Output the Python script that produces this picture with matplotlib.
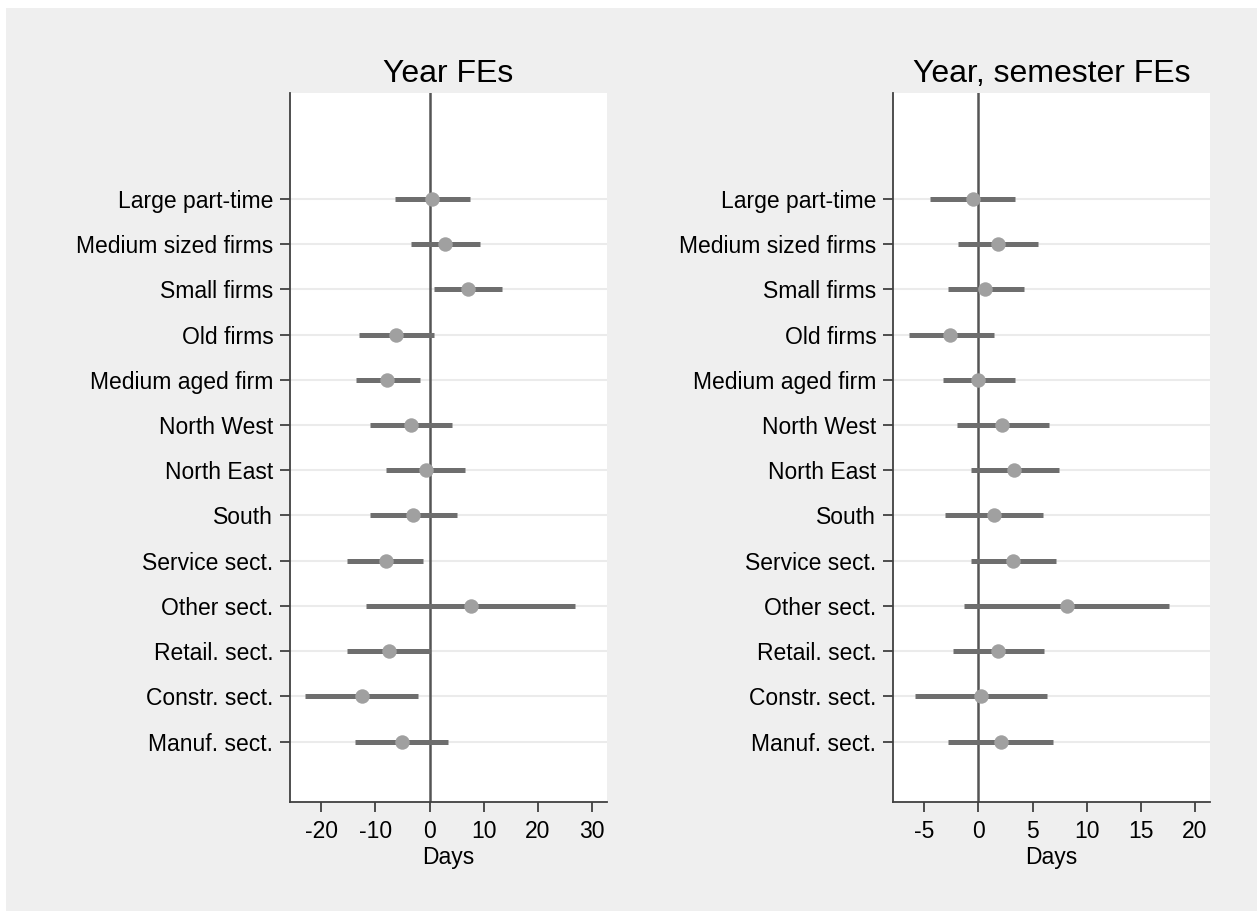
import numpy as np
import matplotlib.pyplot as plt
from matplotlib.patches import Rectangle

plt.rcParams['font.family'] = ['Liberation Sans', 'DejaVu Sans']

# coefficient labels, top to bottom
labels = ['Large part-time', 'Medium sized firms', 'Small firms', 'Old firms',
          'Medium aged firm', 'North West', 'North East', 'South',
          'Service sect.', 'Other sect.', 'Retail. sect.', 'Constr. sect.',
          'Manuf. sect.']

# Year FEs: point estimate and 95% CI
year_coef = [0.5, 2.8, 7.1, -6.1, -7.8, -3.5, -0.7, -3.0, -8.1, 7.6, -7.5, -12.4, -5.0]
year_lo = [-6.3, -3.5, 0.8, -13.0, -13.5, -10.9, -8.0, -11.0, -15.3, -11.8, -15.2, -22.9, -13.7]
year_hi = [7.4, 9.4, 13.3, 0.8, -1.8, 4.1, 6.5, 5.1, -1.2, 26.9, 0.0, -2.1, 3.4]

# Year, semester FEs
sem_coef = [-0.55, 1.76, 0.62, -2.61, -0.06, 2.22, 3.33, 1.48, 3.23, 8.16, 1.85, 0.22, 2.06]
sem_lo = [-4.46, -1.9, -2.83, -6.46, -3.32, -2.0, -0.67, -3.07, -0.67, -1.32, -2.36, -5.9, -2.83]
sem_hi = [3.39, 5.48, 4.22, 1.39, 3.39, 6.53, 7.45, 5.94, 7.17, 17.6, 6.1, 6.3, 6.87]

W, H = 1257, 911
fig = plt.figure(figsize=(W/100, H/100), dpi=100)
fig.patch.set_facecolor('white')
fig.patches.append(Rectangle((6/W, 0), 1, (H-8)/H, transform=fig.transFigure,
                             facecolor='#efefef', edgecolor='none', zorder=-10))

ypos = np.arange(len(labels), 0, -1)

def panel(rect, coef, lo, hi, title, xlim, xticks):
    ax = fig.add_axes(rect)
    ax.set_facecolor('white')
    for y in ypos:
        ax.axhline(y, color='#ebebeb', lw=1.5, zorder=0)
    ax.axvline(0, color='#555555', lw=1.8, zorder=1)
    ax.hlines(ypos, lo, hi, color='#6e6e6e', lw=3.6, zorder=2)
    ax.plot(coef, ypos, 'o', color='#a0a0a0', ms=10.4, mec='none', zorder=3)
    ax.set_xlim(*xlim)
    ax.set_ylim(-0.334, 15.34)
    ax.set_yticks(ypos)
    ax.set_yticklabels(labels, fontsize=16.5)
    ax.set_xticks(xticks)
    ax.set_xticklabels([str(t) for t in xticks], fontsize=16.5)
    ax.tick_params(axis='both', direction='out', length=7, width=1.3, color='#404040')
    ax.tick_params(axis='y', pad=5)
    ax.tick_params(axis='x', pad=6)
    ax.set_xlabel('Days', fontsize=16.5, labelpad=2)
    ax.set_title(title, fontsize=23, pad=8)
    for s in ['top', 'right']:
        ax.spines[s].set_visible(False)
    for s in ['left', 'bottom']:
        ax.spines[s].set_color('#404040')
        ax.spines[s].set_linewidth(1.3)
    return ax

panel([290/W, 109/H, 317/W, 709/H], year_coef, year_lo, year_hi,
      'Year FEs', (-25.76, 32.77), [-20, -10, 0, 10, 20, 30])
panel([893/W, 109/H, 317/W, 709/H], sem_coef, sem_lo, sem_hi,
      'Year, semester FEs', (-7.9, 21.4), [-5, 0, 5, 10, 15, 20])

fig.savefig('out.png', dpi=100)
